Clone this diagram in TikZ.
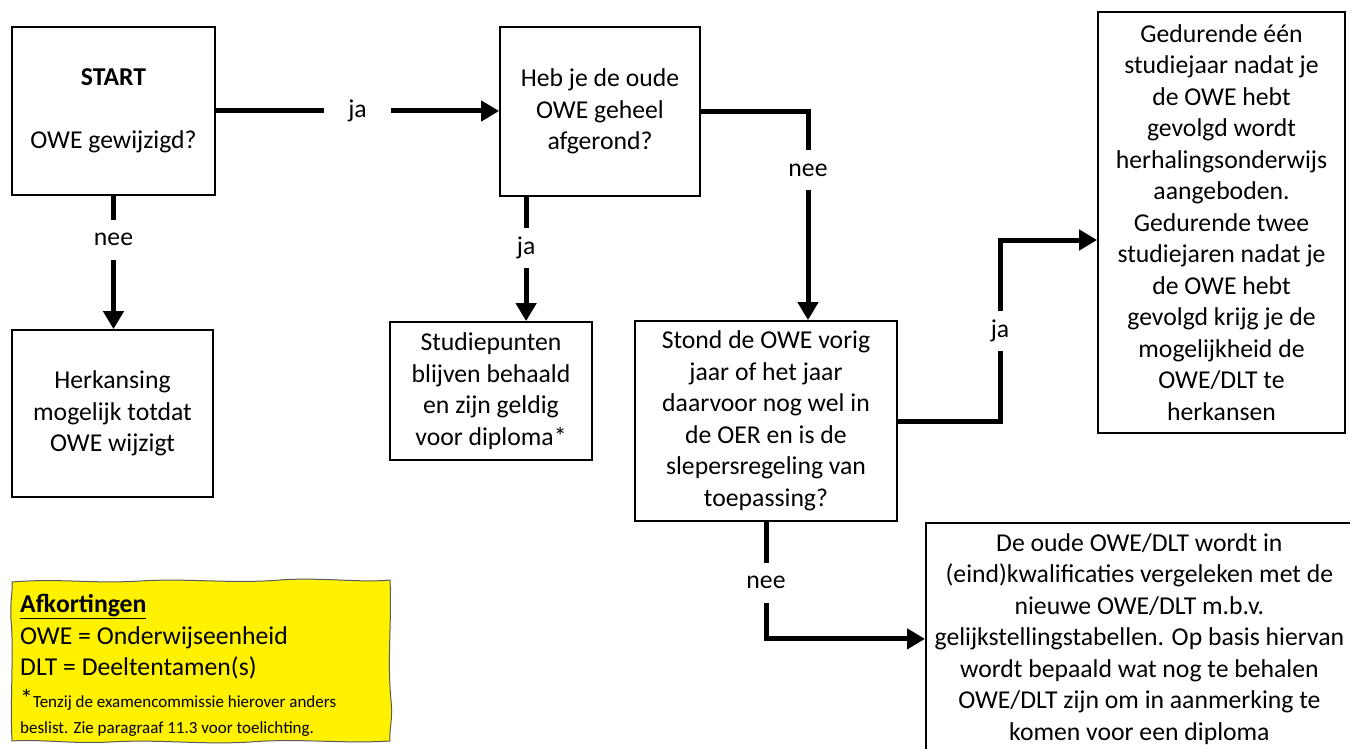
\documentclass[tikz,border=0pt]{standalone}
\usepackage{fontspec}
\setmainfont{Carlito}
\usetikzlibrary{arrows.meta,decorations.pathmorphing,calc}
\begin{document}
\begin{tikzpicture}[x=1pt,y=-1pt,
  font=\fontsize{25.7pt}{31.5pt}\selectfont,
  box/.style={draw=black, line width=1.8pt, fill=white, align=center, inner sep=0pt},
  arr/.style={line width=5pt, -{Triangle[length=18pt,width=20pt]}},
  lbl/.style={fill=white, inner xsep=24pt, inner ysep=0pt, minimum height=40pt},
  notebg/.style={draw=black!65, line width=1pt, fill=yellow, line join=round},
  notetext/.style={align=left, inner sep=0pt}]
\useasboundingbox (0,0) rectangle (1350,749);
\clip (0,0) rectangle (1350,749);

\node[box, minimum width=203pt, minimum height=168pt] (start) at (113.5,111)
  {\textbf{START}\\[31.5pt]OWE gewijzigd?};
\node[box, minimum width=200pt, minimum height=169pt] (q1) at (600,111.5)
  {Heb je de oude\\OWE geheel\\afgerond?};
\node[box, minimum width=201pt, minimum height=167pt] (herk) at (112.5,413.5)
  {Herkansing\\mogelijk totdat\\OWE wijzigt};
\node[box, minimum width=202pt, minimum height=138pt] (sp) at (491,391)
  {Studiepunten\\blijven behaald\\en zijn geldig\\voor diploma*};
\node[box, minimum width=262pt, minimum height=200pt] (q2) at (766,421)
  {Stond de OWE vorig\\jaar of het jaar\\daarvoor nog wel in\\de OER en is de\\slepersregeling van\\toepassing?};
\node[box, minimum width=247pt, minimum height=421pt] (r1) at (1221.5,222.5)
  {Gedurende één\\studiejaar nadat je\\de OWE hebt\\gevolgd wordt\\herhalingsonderwijs\\aangeboden.\\Gedurende twee\\studiejaren nadat je\\de OWE hebt\\gevolgd krijg je de\\mogelijkheid de\\OWE/DLT te\\herkansen};
\node[box, anchor=north west, minimum width=427pt, minimum height=232pt] (r2) at (925,522)
  {De oude OWE/DLT wordt in\\(eind)kwalificaties vergeleken met de\\nieuwe OWE/DLT m.b.v.\\gelijkstellingstabellen. Op basis hiervan\\wordt bepaald wat nog te behalen\\OWE/DLT zijn om in aanmerking te\\komen voor een diploma};

% wavy yellow legend background
\path[notebg] (12,582)
  .. controls (60,578) and (90,584) .. (140,581)
  .. controls (190,578) and (230,584) .. (280,580)
  .. controls (320,577) and (360,583) .. (390,580)
  .. controls (392,620) and (387,660) .. (391,700)
  .. controls (393,720) and (389,730) .. (390,741)
  .. controls (340,744) and (300,738) .. (250,742)
  .. controls (200,745) and (160,739) .. (110,742)
  .. controls (70,744) and (40,739) .. (12,741)
  .. controls (10,700) and (14,650) .. (11,620)
  .. controls (10,600) and (13,590) .. (12,582) -- cycle;
\node[notetext, anchor=north west] (legend) at (20,594)
  {\underline{\textbf{Afkortingen}}\\
   OWE = Onderwijseenheid\\
   DLT = Deeltentamen(s)\\
   {*}{\fontsize{17pt}{31.5pt}\selectfont Tenzij de examencommissie hierover anders}\\[-5.5pt]
   {\fontsize{17pt}{31.5pt}\selectfont beslist. Zie paragraaf 11.3 voor toelichting.}};

\coordinate (c1) at (1000,240);
\draw[arr] (start.east) -- node[lbl]{ja} (start.east -| q1.west);
\draw[arr] (start.south) -- node[lbl,pos=0.33]{nee} (start.south |- herk.north);
\draw[arr] ([xshift=27pt]q1.south west) -- node[lbl,pos=0.41]{ja} ([xshift=27pt]q1.south west |- sp.north);
\draw[arr] (q1.east) -| node[lbl,pos=0.64]{nee} ([xshift=42pt]q2.north);
\draw[arr] (q2.east) -| node[lbl,pos=0.75]{ja} (c1) -- (c1 -| r1.west);
\draw[arr] (q2.south) |- node[lbl,pos=0.26]{nee} (r2.west);
\end{tikzpicture}
\end{document}
